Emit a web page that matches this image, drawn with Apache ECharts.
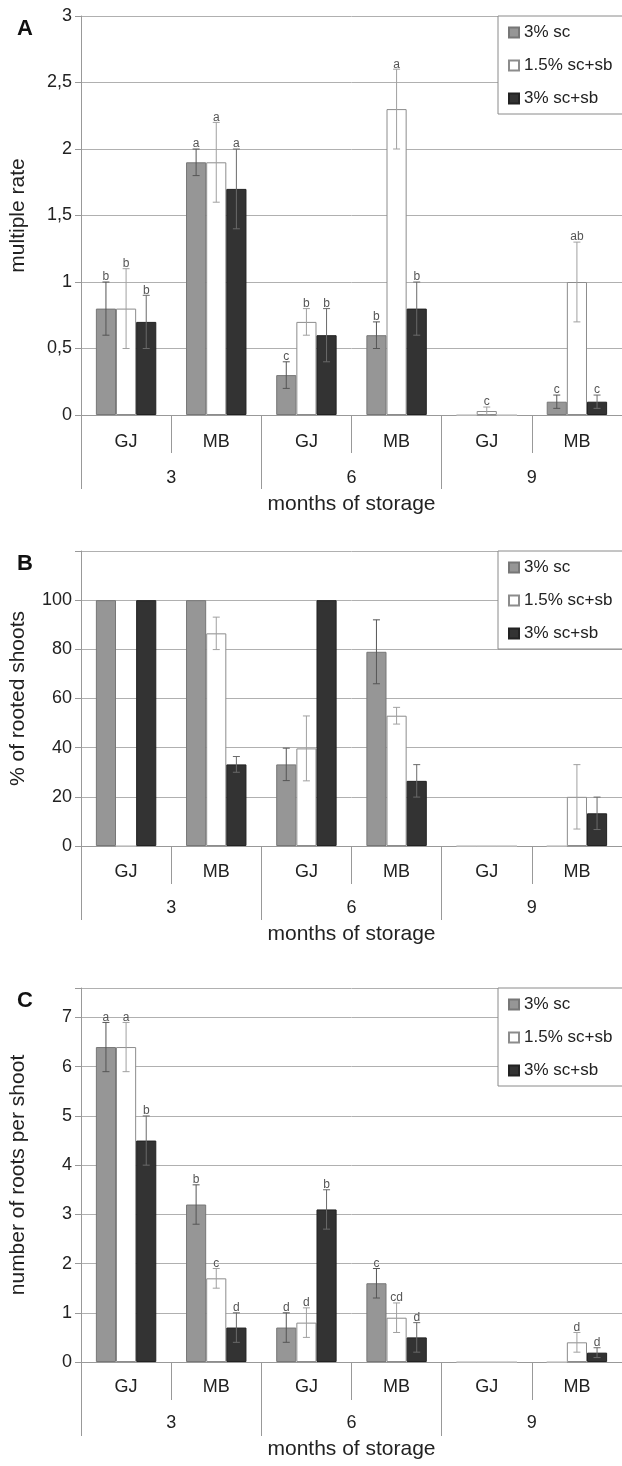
<!DOCTYPE html>
<html>
<head>
<meta charset="utf-8">
<script src="https://cdn.jsdelivr.net/npm/echarts@6/dist/echarts.min.js"></script>
<style>
  html, body { margin: 0; padding: 0; background: #fff; }
  .panel { position: absolute; left: 0; width: 622px; }
</style>
</head>
<body>
<div class="panel" id="panelA" style="top:0;height:520px"></div>
<div class="panel" id="panelB" style="top:520px;height:430px"></div>
<div class="panel" id="panelC" style="top:950px;height:516px"></div>
<script>
// categories
var cultivars = ["GJ", "MB", "GJ", "MB", "GJ", "MB"];
var months = ["3", "6", "9"];
var treatments = ["3% sc", "1.5% sc+sb", "3% sc+sb"];

// A: multiple rate
var rate_3sc = [0.8, 1.9, 0.3, 0.6, 0, 0.1];
var rate_15scsb = [0.8, 1.9, 0.7, 2.3, 0.03, 1.0];
var rate_3scsb = [0.7, 1.7, 0.6, 0.8, 0, 0.1];
var rateErr_3sc = [0.2, 0.1, 0.1, 0.1, 0, 0.05];
var rateErr_15scsb = [0.3, 0.3, 0.1, 0.3, 0.03, 0.3];
var rateErr_3scsb = [0.2, 0.3, 0.2, 0.2, 0, 0.05];
var rateLet_3sc = ["b", "a", "c", "b", "", "c"];
var rateLet_15scsb = ["b", "a", "b", "a", "c", "ab"];
var rateLet_3scsb = ["b", "a", "b", "b", "", "c"];
var rateTicks = [0, 0.5, 1, 1.5, 2, 2.5, 3];

// B: % of rooted shoots
var rooted_3sc = [100, 100, 33.2, 79, 0, 0];
var rooted_15scsb = [0, 86.5, 39.7, 53, 0, 20];
var rooted_3scsb = [100, 33.2, 100, 26.5, 0, 13.3];
var rootedErr_3sc = [0, 0, 6.6, 13, 0, 0];
var rootedErr_15scsb = [0, 6.6, 13.2, 3.4, 0, 13.1];
var rootedErr_3scsb = [0, 3.2, 0, 6.6, 0, 6.6];
var rootedTicks = [0, 20, 40, 60, 80, 100];

// C: number of roots per shoot
var roots_3sc = [6.4, 3.2, 0.7, 1.6, 0, 0];
var roots_15scsb = [6.4, 1.7, 0.8, 0.9, 0, 0.4];
var roots_3scsb = [4.5, 0.7, 3.1, 0.5, 0, 0.19];
var rootsErr_3sc = [0.5, 0.4, 0.3, 0.3, 0, 0];
var rootsErr_15scsb = [0.5, 0.2, 0.3, 0.3, 0, 0.2];
var rootsErr_3scsb = [0.5, 0.3, 0.4, 0.3, 0, 0.1];
var rootsLet_3sc = ["a", "b", "d", "c", "", ""];
var rootsLet_15scsb = ["a", "c", "d", "cd", "", "d"];
var rootsLet_3scsb = ["b", "d", "b", "d", "", "d"];
var rootsTicks = [0, 1, 2, 3, 4, 5, 6, 7];

var FONT = '"Liberation Sans", Arial, sans-serif';
var barColors = ["#969696", "#ffffff", "#333333"];
var barBorders = ["#777777", "#8c8c8c", "#222222"];
var errColors = ["#555555", "#a0a0a0", "#6a6a6a"];
var GAP = 0.33;

// 误差线 + 字母标注
function errorRenderer(slot, errs, letters) {
  return function (params, api) {
    var i = params.dataIndex;
    var band = api.size([1, 0])[0];
    var bw = band * (1 - GAP) / 3;
    var cx = api.coord([i, 0])[0] + (slot - 1) * bw;
    var v = api.value(1);
    var e = errs[i];
    var yHi = api.coord([i, v + e])[1];
    var yLo = api.coord([i, v - e])[1];
    var st = { stroke: errColors[slot], lineWidth: 1 };
    var children = [];
    if (e > 0) {
      children.push({ type: "line", shape: { x1: cx, y1: yHi, x2: cx, y2: yLo }, style: st });
      children.push({ type: "line", shape: { x1: cx - 3.5, y1: yHi, x2: cx + 3.5, y2: yHi }, style: st });
      children.push({ type: "line", shape: { x1: cx - 3.5, y1: yLo, x2: cx + 3.5, y2: yLo }, style: st });
    }
    if (letters && letters[i]) {
      children.push({
        type: "text",
        style: {
          x: cx, y: yHi + 1, text: letters[i], fill: "#555",
          font: "12px " + FONT, align: "center", verticalAlign: "bottom"
        }
      });
    }
    return { type: "group", children: children };
  };
}

function makePanel(el, cfg) {
  var myChart = echarts.init(document.getElementById(el));
  var series = [];
  cfg.values.forEach(function (vals, s) {
    series.push({
      name: treatments[s],
      type: "bar",
      xAxisIndex: 0,
      // 零值柱只留一条浅灰线
      data: vals.map(function (v) {
        return v === 0 ? { value: 0, itemStyle: { borderColor: "#c4c4c4" } } : v;
      }),
      barGap: "0%",
      barCategoryGap: GAP * 100 + "%",
      itemStyle: { color: barColors[s], borderColor: barBorders[s], borderWidth: 1 }
    });
  });
  cfg.values.forEach(function (vals, s) {
    series.push({
      type: "custom",
      xAxisIndex: 0,
      z: 5,
      renderItem: errorRenderer(s, cfg.errors[s], cfg.letters ? cfg.letters[s] : null),
      data: vals.map(function (v, i) { return [i, v]; }),
      encode: { x: 0, y: 1 }
    });
  });

  var ticks = cfg.ticks;
  var option = {
    animation: false,
    textStyle: { fontFamily: FONT },
    title: {
      text: cfg.letter, left: 12, top: cfg.gridTop - 3,
      textStyle: { fontSize: 22, fontWeight: "bold", color: "#111", fontFamily: FONT }
    },
    legend: {
      orient: "vertical",
      left: 498, top: cfg.gridTop,
      data: treatments,
      icon: "rect",
      itemWidth: 10, itemHeight: 10, itemGap: 16,
      padding: [8, 30, 7, 10],
      backgroundColor: "#fff",
      borderColor: "#8a8a8a", borderWidth: 1,
      textStyle: { fontSize: 17, color: "#222", fontFamily: FONT, lineHeight: 17 },
      z: 10
    },
    grid: { left: 79, top: cfg.gridTop, width: 548, height: cfg.gridHeight },
    xAxis: [
      {
        type: "category", position: "bottom", data: cultivars,
        axisLine: { show: true, lineStyle: { color: "#999" } },
        axisTick: { show: true, length: 38, interval: 0, lineStyle: { color: "#999" } },
        axisLabel: { interval: 0, margin: cfg.subMargin, fontSize: 18, color: "#222" }
      },
      {
        type: "category", position: "bottom", data: months, offset: 0,
        axisLine: { show: false },
        axisTick: { show: true, length: 74, interval: 0, lineStyle: { color: "#999" } },
        axisLabel: { interval: 0, margin: cfg.subMargin + 36, fontSize: 18, color: "#222" },
        name: "months of storage", nameLocation: "middle", nameGap: cfg.subMargin + 61,
        nameTextStyle: { fontSize: 21, color: "#222" }
      }
    ],
    yAxis: {
      type: "value", min: 0, max: cfg.max, interval: ticks[1] - ticks[0],
      name: cfg.yName, nameLocation: "middle", nameRotate: 90, nameGap: 52,
      nameTextStyle: { fontSize: 21, color: "#222" },
      axisLine: { show: true, lineStyle: { color: "#999" } },
      axisTick: { show: true, length: 6, lineStyle: { color: "#999" } },
      axisLabel: {
        margin: 9, fontSize: 18, color: "#222",
        formatter: function (val) {
          for (var k = 0; k < ticks.length; k++) {
            if (Math.abs(ticks[k] - val) < 1e-6) return String(ticks[k]).replace(".", ",");
          }
          return "";
        }
      },
      splitLine: { show: true, lineStyle: { color: "#b0b0b0" } }
    },
    series: series
  };
  myChart.setOption(option);
  window.addEventListener("resize", function () {
    myChart.resize();
  });
}

makePanel("panelA", {
  letter: "A", gridTop: 16, gridHeight: 402, max: 3, ticks: rateTicks, subMargin: 18,
  yName: "multiple rate",
  values: [rate_3sc, rate_15scsb, rate_3scsb],
  errors: [rateErr_3sc, rateErr_15scsb, rateErr_3scsb],
  letters: [rateLet_3sc, rateLet_15scsb, rateLet_3scsb]
});

makePanel("panelB", {
  letter: "B", gridTop: 31, gridHeight: 301, max: 120, ticks: rootedTicks, subMargin: 17,
  yName: "% of rooted shoots",
  values: [rooted_3sc, rooted_15scsb, rooted_3scsb],
  errors: [rootedErr_3sc, rootedErr_15scsb, rootedErr_3scsb],
  letters: null
});

makePanel("panelC", {
  letter: "C", gridTop: 38, gridHeight: 374, max: 7.6, ticks: rootsTicks, subMargin: 16,
  yName: "number of roots per shoot",
  values: [roots_3sc, roots_15scsb, roots_3scsb],
  errors: [rootsErr_3sc, rootsErr_15scsb, rootsErr_3scsb],
  letters: [rootsLet_3sc, rootsLet_15scsb, rootsLet_3scsb]
});
</script>
</body>
</html>
